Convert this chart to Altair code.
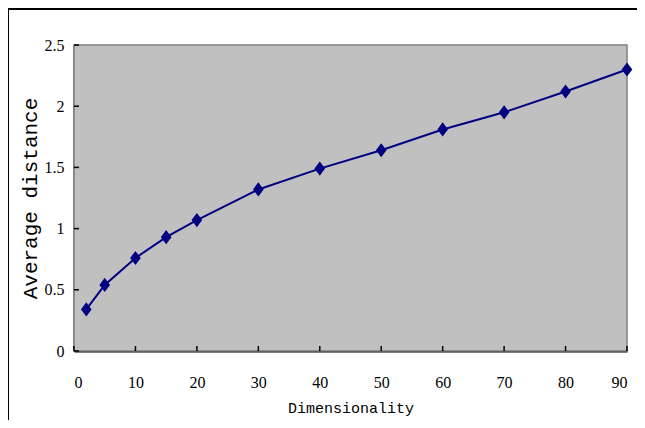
import altair as alt
import pandas as pd

dims = [2, 5, 10, 15, 20, 30, 40, 50, 60, 70, 80, 90]
avg_dist = [0.34, 0.54, 0.76, 0.93, 1.07, 1.32, 1.49, 1.64, 1.81, 1.95, 2.12, 2.30]
x_ticks = [0, 10, 20, 30, 40, 50, 60, 70, 80, 90]
y_ticks = [0, 0.5, 1, 1.5, 2, 2.5]

df = pd.DataFrame({"d": dims, "v": avg_dist})
xt = pd.DataFrame({"t": x_ticks})
yt = pd.DataFrame({"t": y_ticks})

W, H = 553, 306
TFONT = "Liberation Mono"
LFONT = "Liberation Serif"
NAVY = "#000080"
DIAMOND = "M0,-1.2L0.9,0L0,1.2L-0.9,0Z"

xs = alt.Scale(domain=[0, 90], nice=False)
ys = alt.Scale(domain=[0, 2.5], nice=False)
one = pd.DataFrame({"a": [0]})

bg = alt.Chart(one).mark_rect(
    fill="#C0C0C0", stroke="#808080", strokeWidth=1.5
).encode(x=alt.value(0), x2=alt.value(W), y=alt.value(0), y2=alt.value(H))

frame_top = alt.Chart(one).mark_rule(color="black", strokeWidth=2, clip=False).encode(
    x=alt.value(-66), x2=alt.value(W + 60), y=alt.value(-36))
frame_left = alt.Chart(one).mark_rule(color="black", strokeWidth=2, clip=False).encode(
    x=alt.value(-66), y=alt.value(-37), y2=alt.value(H + 120))

line = alt.Chart(df).mark_line(color=NAVY, strokeWidth=2).encode(
    x=alt.X("d:Q", scale=xs,
            axis=alt.Axis(title="Dimensionality", values=x_ticks, ticks=False, labelPadding=23,
                          domainColor="black", domainWidth=2, grid=False,
                          labelFont=LFONT, labelFontSize=16, labelColor="black",
                          titleFont=TFONT, titleFontSize=15, titleFontWeight="normal",
                          titleColor="black", titlePadding=10)),
    y=alt.Y("v:Q", scale=ys,
            axis=alt.Axis(title="Average distance", values=y_ticks, ticks=False, labelPadding=10,
                          format="~g", domainColor="black", domainWidth=2, grid=False,
                          labelFont=LFONT, labelFontSize=16, labelColor="black",
                          titleFont=TFONT, titleFontSize=21, titleFontWeight="normal",
                          titleColor="black", titlePadding=4)),
)

pts = alt.Chart(df).mark_point(shape=DIAMOND, filled=True, color=NAVY, size=140, opacity=1).encode(
    x=alt.X("d:Q", scale=xs), y=alt.Y("v:Q", scale=ys)
)

xtick = alt.Chart(xt).mark_rule(color="black", strokeWidth=1.5).encode(
    x=alt.X("t:Q", scale=xs), y=alt.value(H), y2=alt.value(H - 5)
)
ytick = alt.Chart(yt).mark_rule(color="black", strokeWidth=1.5).encode(
    y=alt.Y("t:Q", scale=ys), x=alt.value(0), x2=alt.value(5)
)

chart = alt.layer(bg, frame_top, frame_left, line, xtick, ytick, pts).properties(
    width=W, height=H,
    background="white",
    autosize=alt.AutoSizeParams(type="none"),
    padding={"left": 66, "top": 37, "right": 10, "bottom": 69},
).configure_view(stroke=None)

chart.save("out.html", embed_options={"renderer": "svg", "actions": False})
